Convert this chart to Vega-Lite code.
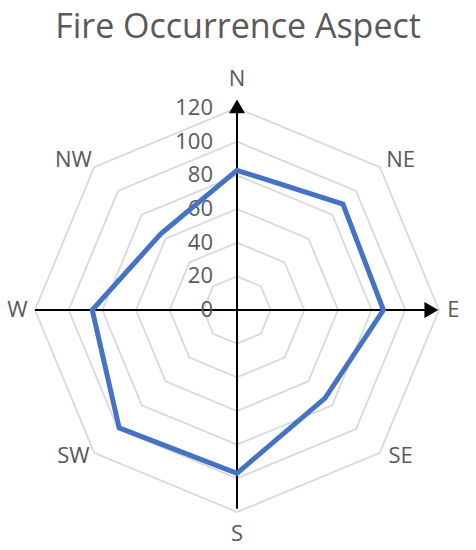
{
  "$schema": "https://vega.github.io/schema/vega-lite/v6.json",
  "width": 476,
  "height": 500,
  "autosize": {"type": "none"},
  "padding": {"top": 50, "left": 0, "right": 0, "bottom": 0},
  "title": {
    "text": "Fire Occurrence Aspect",
    "font": "Open Sans",
    "fontSize": 34,
    "fontWeight": "normal",
    "color": "#595959",
    "anchor": "middle",
    "offset": 5
  },
  "config": {"view": {"stroke": null}},
  "datasets": {
    "aspect": [
      {"dir": "N", "angle": 0, "count": 83},
      {"dir": "NE", "angle": 45, "count": 89},
      {"dir": "E", "angle": 90, "count": 87},
      {"dir": "SE", "angle": 135, "count": 74},
      {"dir": "S", "angle": 180, "count": 97},
      {"dir": "SW", "angle": 225, "count": 99},
      {"dir": "W", "angle": 270, "count": 86},
      {"dir": "NW", "angle": 315, "count": 64}
    ],
    "rings": [
      {"level": 0, "angles": []},
      {"level": 20, "angles": [0, 45, 90, 135, 180, 225, 270, 315]},
      {"level": 40, "angles": [0, 45, 90, 135, 180, 225, 270, 315]},
      {"level": 60, "angles": [0, 45, 90, 135, 180, 225, 270, 315]},
      {"level": 80, "angles": [0, 45, 90, 135, 180, 225, 270, 315]},
      {"level": 100, "angles": [0, 45, 90, 135, 180, 225, 270, 315]},
      {"level": 120, "angles": [0, 45, 90, 135, 180, 225, 270, 315]}
    ]
  },
  "layer": [
    {
      "data": {"name": "rings"},
      "transform": [
        {"flatten": ["angles"], "as": ["angle"]},
        {"calculate": "datum.level * sin(datum.angle * PI / 180)", "as": "rx"},
        {"calculate": "datum.level * cos(datum.angle * PI / 180)", "as": "ry"}
      ],
      "mark": {"type": "line", "interpolate": "linear-closed", "color": "#d9d9d9", "strokeWidth": 1.75},
      "encoding": {
        "x": {"field": "rx", "type": "quantitative", "scale": {"domain": [-140.8, 142.0], "nice": false, "zero": false}, "axis": null},
        "y": {"field": "ry", "type": "quantitative", "scale": {"domain": [-142.57, 154.46], "nice": false, "zero": false}, "axis": null},
        "detail": {"field": "level", "type": "nominal"},
        "order": {"field": "angle", "type": "quantitative"}
      }
    },
    {
      "data": {"values": [{}]},
      "mark": {"type": "rule", "color": "black", "strokeWidth": 2},
      "encoding": {
        "x": {"datum": -120, "type": "quantitative"},
        "x2": {"datum": 116},
        "y": {"datum": 0, "type": "quantitative"}
      }
    },
    {
      "data": {"values": [{}]},
      "mark": {"type": "rule", "color": "black", "strokeWidth": 2},
      "encoding": {
        "x": {"datum": 0, "type": "quantitative"},
        "y": {"datum": -118, "type": "quantitative"},
        "y2": {"datum": 120}
      }
    },
    {
      "data": {"values": [{}]},
      "mark": {"type": "point", "shape": "triangle-up", "filled": true, "color": "black", "opacity": 1, "size": 256},
      "encoding": {
        "x": {"datum": 0, "type": "quantitative"},
        "y": {"datum": 121, "type": "quantitative"}
      }
    },
    {
      "data": {"values": [{}]},
      "mark": {"type": "point", "shape": "triangle-right", "filled": true, "color": "black", "opacity": 1, "size": 256},
      "encoding": {
        "x": {"datum": 115.5, "type": "quantitative"},
        "y": {"datum": 0, "type": "quantitative"}
      }
    },
    {
      "data": {"name": "rings"},
      "mark": {"type": "text", "align": "right", "baseline": "middle", "dx": -24, "font": "Open Sans", "fontSize": 22, "color": "#595959"},
      "encoding": {
        "x": {"datum": 0, "type": "quantitative"},
        "y": {"field": "level", "type": "quantitative"},
        "text": {"field": "level", "type": "quantitative"}
      }
    },
    {
      "data": {"name": "aspect"},
      "transform": [
        {"calculate": "datum.count * sin(datum.angle * PI / 180)", "as": "px"},
        {"calculate": "datum.count * cos(datum.angle * PI / 180)", "as": "py"}
      ],
      "mark": {"type": "line", "interpolate": "linear-closed", "color": "#4472C4", "strokeWidth": 5},
      "encoding": {
        "x": {"field": "px", "type": "quantitative"},
        "y": {"field": "py", "type": "quantitative"},
        "order": {"field": "angle", "type": "quantitative"}
      }
    },
    {
      "data": {"name": "aspect"},
      "transform": [
        {"calculate": "sin(datum.angle * PI / 180) * (datum.dir === 'E' ? 128.5 : datum.dir === 'W' ? 130.5 : 137.5)", "as": "lx"},
        {"calculate": "cos(datum.angle * PI / 180) * (datum.dir === 'N' ? 137 : datum.dir === 'S' ? 133 : cos(datum.angle * PI / 180) > 0 ? 126 : 123)", "as": "ly"}
      ],
      "mark": {"type": "text", "align": "center", "baseline": "middle", "font": "Open Sans", "fontSize": 22, "color": "#595959"},
      "encoding": {
        "x": {"field": "lx", "type": "quantitative"},
        "y": {"field": "ly", "type": "quantitative"},
        "text": {"field": "dir", "type": "nominal"}
      }
    }
  ]
}
